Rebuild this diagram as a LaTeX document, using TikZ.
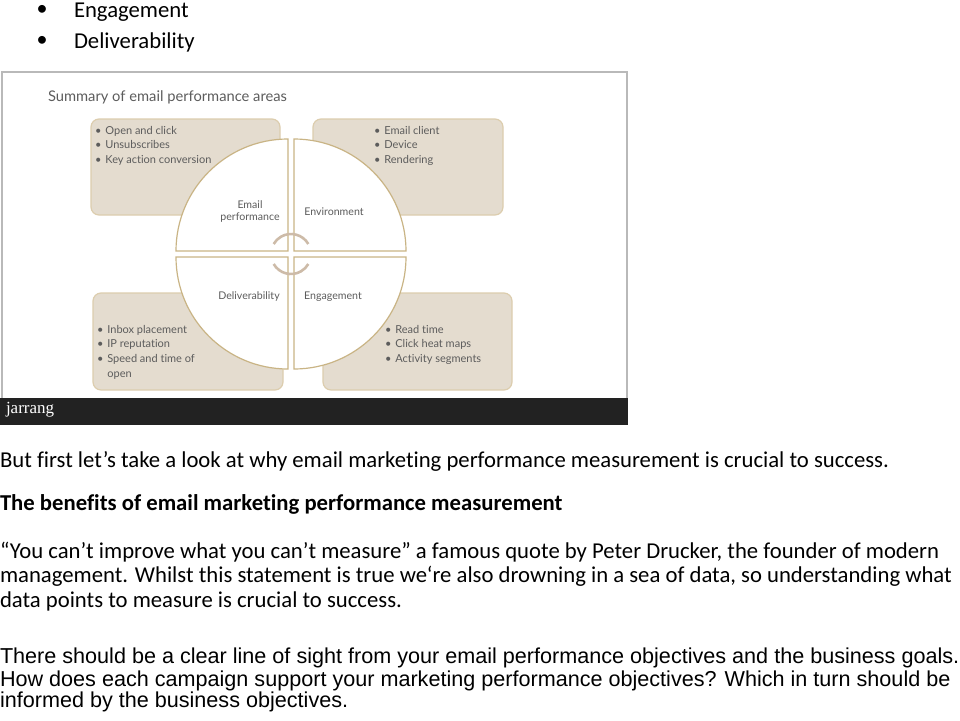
\documentclass[tikz,border=0pt]{standalone}
\usepackage{fontspec}
\setmainfont[Ligatures=NoCommon]{Carlito}
\newfontfamily\arialfont{Liberation Sans}
\newfontfamily\figfont[Ligatures=NoCommon]{Lato}
\newfontfamily\logofont{Liberation Serif}
\usepackage{tikz}
\definecolor{boxfill}{HTML}{E4DCCF}
\definecolor{boxline}{HTML}{DCCDAE}
\definecolor{ringline}{HTML}{C9B485}
\definecolor{hookline}{HTML}{CDBBA8}
\definecolor{figtext}{HTML}{5C5C5C}
\definecolor{barfill}{HTML}{222222}
\tikzset{
    every node/.style={inner sep=0pt, outer sep=0pt}
}
\tikzset{
    doctext/.style={anchor=base west, font=\fontsize{22.7}{26}\selectfont},
    arialtext/.style={anchor=base west, font=\arialfont\fontsize{21.6}{24}\selectfont},
    areabox/.style={fill=boxfill, draw=boxline, line width=1.2pt, rounded corners=8pt},
    quarter/.style={fill=white, draw=ringline, line width=1.2pt},
    hook/.style={draw=hookline, line width=2.6pt},
    arealist/.style={anchor=north west, align=left, text=figtext, font=\figfont\fontsize{11}{14.6}\selectfont},
    arealabel/.style={align=center, text=figtext, font=\figfont\fontsize{10.6}{12}\selectfont}
}

\begin{document}
\begin{tikzpicture}[x=1pt, y=1pt]
  \useasboundingbox (0,0) rectangle (960,-720);

  % bullets above the figure
  \node (b1) at (42,-10) {\fontsize{22}{22}\selectfont •};
  \node (b2) at (42,-41) {\fontsize{22}{22}\selectfont •};
  \node[doctext] (eng) at (74,-17) {Engagement};
  \node[doctext] (del) at (74,-48) {Deliverability};

  % figure frame
  \draw[gray!55, line width=1.5pt] (2,-398) -- (2,-72) -- (627,-72) -- (627,-398);
  \fill[barfill] (0,-398) rectangle (628,-425);
  \node[anchor=west, text=white, font=\logofont\fontsize{17}{17}\selectfont] (logo) at (6,-410) {jarrang};

  \node[anchor=base west, text=figtext, font=\figfont\fontsize{14.7}{15}\selectfont] (title) at (48,-101) {Summary of email performance areas};

  % boxes
  \draw[areabox] (91,-119) rectangle (280,-215);
  \draw[areabox] (313,-119) rectangle (503,-215);
  \draw[areabox] (93,-293) rectangle (283,-390);
  \draw[areabox] (323,-293) rectangle (512,-390);

  % circle quarters
  \draw[quarter] (288,-251) -- (176,-251) arc[start angle=180, end angle=90, radius=112] -- cycle;
  \draw[quarter] (294,-251) -- (294,-139) arc[start angle=90, end angle=0, radius=112] -- cycle;
  \draw[quarter] (288,-257) -- (176,-257) arc[start angle=180, end angle=270, radius=112] -- cycle;
  \draw[quarter] (294,-257) -- (406,-257) arc[start angle=0, end angle=-90, radius=112] -- cycle;

  \draw[hook] (291,-254) ++(30:20) arc[start angle=30, end angle=150, radius=20];
  \draw[hook] (291,-254) ++(210:20) arc[start angle=210, end angle=330, radius=20];

  % box texts
  \node[arealist] (opens) at (95,-124) {\begin{tabular}{@{}l@{\hspace{4pt}}l@{}}• & Open and click\\• & Unsubscribes\\• & Key action conversion\end{tabular}};
  \node[arealist] (clients) at (374,-124) {\begin{tabular}{@{}l@{\hspace{4pt}}l@{}}• & Email client\\• & Device\\• & Rendering\end{tabular}};
  \node[arealist] (inbox) at (97,-323) {\begin{tabular}{@{}l@{\hspace{4pt}}l@{}}• & Inbox placement\\• & IP reputation\\• & Speed and time of\\ & open\end{tabular}};
  \node[arealist] (reads) at (385,-323) {\begin{tabular}{@{}l@{\hspace{4pt}}l@{}}• & Read time\\• & Click heat maps\\• & Activity segments\end{tabular}};

  % quarter labels
  \node[arealabel] (perf) at (250,-212) {Email\\performance};
  \node[arealabel] (env) at (334,-212) {Environment};
  \node[arealabel] (deliv) at (249,-297) {Deliverability};
  \node[arealabel] (engage) at (333,-297) {Engagement};

  % page text
  \node[doctext] (first) at (0,-467) {But first let’s take a look at why email marketing performance measurement is crucial to success.};
  \node[doctext, font=\bfseries\fontsize{22.7}{26}\selectfont] (head) at (0,-510) {The benefits of email marketing performance measurement};
  \node[doctext] (q1) at (0,-558) {“You can’t improve what you can’t measure” a famous quote by Peter Drucker, the founder of modern};
  \node[doctext] (q2) at (0,-582) {management. Whilst this statement is true we‘re also drowning in a sea of data, so understanding what};
  \node[doctext] (q3) at (0,-607) {data points to measure is crucial to success.};
  \node[arialtext] (a1) at (0,-663) {There should be a clear line of sight from your email performance objectives and the business goals.};
  \node[arialtext] (a2) at (0,-686) {How does each campaign support your marketing performance objectives? Which in turn should be};
  \node[arialtext] (a3) at (0,-707) {informed by the business objectives.};
\end{tikzpicture}
\end{document}
